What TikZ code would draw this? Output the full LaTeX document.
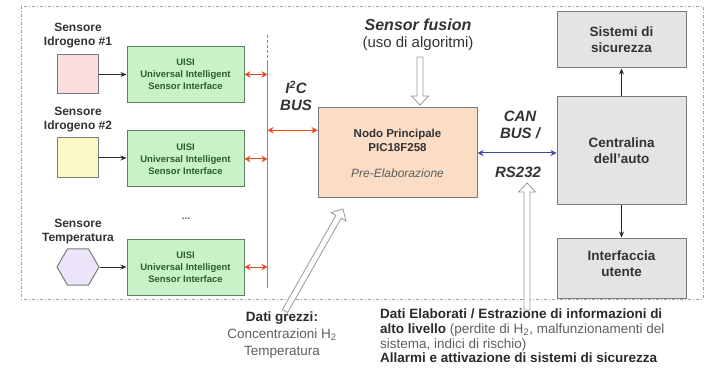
\documentclass[tikz,border=0pt]{standalone}
\usepackage{fontspec}
\setmainfont{Liberation Sans}
\usetikzlibrary{arrows.meta,calc,shapes.geometric}

\definecolor{boxline}{HTML}{7A7A7A}
\definecolor{uisiline}{HTML}{5E7E5E}
\definecolor{uisifill}{HTML}{C8F3C8}
\definecolor{uisitext}{HTML}{2A5E2A}
\definecolor{pinkfill}{HTML}{FBDDE0}
\definecolor{yellowfill}{HTML}{FDF8C8}
\definecolor{lilacfill}{HTML}{ECE4F8}
\definecolor{peachfill}{HTML}{FBDCC4}
\definecolor{grayfill}{HTML}{E4E4E4}
\definecolor{labeltext}{HTML}{333333}
\definecolor{softtext}{HTML}{5E5E5E}
\definecolor{busred}{HTML}{F04A22}
\definecolor{railred}{HTML}{F3624E}
\definecolor{canblue}{HTML}{4444A6}
\definecolor{arrowdark}{HTML}{2A2A2A}
\definecolor{hollowgray}{HTML}{9A9A9A}
\definecolor{framegray}{HTML}{9C9C9C}

% hollow block arrow from #1 to the tip #2
\newcommand\hollowarrow[2]{%
  \coordinate (ha-h) at ($(#2)!9pt!(#1)$);
  \draw[hollow] ($(#1)!3pt!90:(#2)$) -- ($(ha-h)!3pt!90:(#2)$)
    -- ($(ha-h)!8.5pt!90:(#2)$) -- (#2) -- ($(ha-h)!8.5pt!-90:(#2)$)
    -- ($(ha-h)!3pt!-90:(#2)$) -- ($(#1)!3pt!-90:(#2)$) -- cycle;
}

\begin{document}
\begin{tikzpicture}[x=1pt,y=-1pt,
  frame/.style={draw=framegray, line width=0.9pt,
    dash pattern=on 3pt off 2pt on 1pt off 2pt},
  sensbox/.style={draw=boxline, line width=1pt, minimum width=41pt,
    minimum height=39pt, inner sep=0pt},
  uisi/.style={draw=uisiline, fill=uisifill, line width=1pt,
    minimum width=117pt, minimum height=56pt, align=center, inner sep=0pt,
    font=\bfseries\fontsize{9.5}{12}\selectfont, text=uisitext},
  graybox/.style={draw=boxline, fill=grayfill, line width=1pt,
    minimum width=129pt, align=center, inner sep=0pt,
    font=\bfseries\fontsize{13.5}{16}\selectfont, text=labeltext},
  senslabel/.style={align=center, inner sep=0pt,
    font=\bfseries\fontsize{12}{14}\selectfont, text=labeltext},
  buslabel/.style={align=center, inner sep=0pt,
    font=\bfseries\itshape\fontsize{15}{17}\selectfont, text=labeltext},
  rail/.style={draw=railred, line width=1.3pt},
  busarrow/.style={draw=busred, line width=1pt,
    {Stealth[length=6pt,width=6.5pt]}-{Stealth[length=6pt,width=6.5pt]}},
  canarrow/.style={draw=canblue, line width=1pt,
    {Stealth[length=6pt,width=6pt]}-{Stealth[length=6pt,width=6pt]}},
  feed/.style={draw=arrowdark, line width=1pt, -{Stealth[length=6pt,width=5pt]}},
  hollow/.style={draw=hollowgray, fill=white, line width=0.8pt, line join=miter},
]
\useasboundingbox (0,0) rectangle (708,371);

% outer system boundary
\draw[frame] (21,6) rectangle (703,299);

% sensors
\node[senslabel] (l1) at (78,36) {Sensore\\Idrogeno \#1};
\node[sensbox, fill=pinkfill] (s1) at (77.5,74.5) {};
\node[senslabel] (l2) at (78,120) {Sensore\\Idrogeno \#2};
\node[sensbox, fill=yellowfill, minimum height=40pt] (s2) at (77.5,158) {};
\node[senslabel] (l3) at (78,232) {Sensore\\Temperatura};
\node[draw=boxline, fill=lilacfill, line width=1pt, regular polygon,
  regular polygon sides=6, minimum size=42pt, inner sep=0pt] (s3) at (78,267) {};

% interface boards
\node[uisi] (u1) at (185.5,74.5) {UISI\\Universal Intelligent\\Sensor Interface};
\node[uisi] (u2) at (185.5,159) {UISI\\Universal Intelligent\\Sensor Interface};
\node[uisi] (u3) at (185.5,267) {UISI\\Universal Intelligent\\Sensor Interface};
\node[text=softtext, font=\bfseries\fontsize{10}{12}\selectfont] (dots) at (186,219) {...};

\draw[feed] (s1.east) -- (u1.west |- s1.east);
\draw[feed] (s2.east) -- (u2.west |- s2.east);
\draw[feed] (s3.east) -- (u3.west |- s3.east);

% I2C bus: a red rail, dashed at its top end
\coordinate (bustop) at (267.5,35);
\coordinate (busmid) at (267.5,62);
\coordinate (busbot) at (267.5,288);
\draw[rail, dash pattern=on 3pt off 2pt] (bustop) -- (busmid);
\draw[rail] (busmid) -- (busbot);
\draw[busarrow] (u1.east) -- (u1.east -| busbot);
\draw[busarrow] (u2.east) -- (u2.east -| busbot);
\draw[busarrow] (u3.east) -- (u3.east -| busbot);
\node[buslabel] (i2c) at (296,96) {I\textsuperscript{2}C\\BUS};

% main node
\node[draw=boxline, fill=peachfill, line width=1pt, minimum width=159pt,
  minimum height=90pt, align=center, inner sep=0pt, text=labeltext,
  font=\fontsize{11.5}{14}\selectfont] (m) at (397.5,153)
  {\textbf{Nodo Principale}\\\textbf{PIC18F258}\\[12pt]
   {\color{softtext}\itshape\fontsize{12}{14}\selectfont Pre-Elaborazione}};
\coordinate (mbus) at ($(m.north west)!0.25!(m.south west)$);
\draw[busarrow] (mbus -| busbot) -- (mbus);

% sensor fusion
\node[inner sep=0pt, text=labeltext, font=\bfseries\itshape\fontsize{16}{18}\selectfont]
  (sf) at (418,25) {Sensor fusion};
\node[inner sep=0pt, text=labeltext, font=\fontsize{15}{17}\selectfont]
  (alg) at (418,44) {(uso di algoritmi)};
\coordinate (sfa) at (420,57);
\coordinate (sfb) at (420,105);
\hollowarrow{sfa}{sfb}

% car side
\node[graybox, minimum height=56pt] (ss) at (621.5,40) {Sistemi di\\sicurezza};
\node[graybox, minimum height=107pt] (c) at (621.5,150.5) {Centralina\\dell'auto};
\node[graybox, minimum height=60pt, text depth=8pt] (iu) at (621.5,268) {Interfaccia\\utente};
\draw[feed] (c.north) -- (ss.south);
\draw[feed] (c.south) -- (iu.north);

\node[buslabel] (can) at (520,125) {CAN\\BUS /};
\node[buslabel] (rs) at (518,172) {RS232};
\draw[canarrow] (m.east) -- (m.east -| c.west);

% raw data
\node[align=center, inner sep=0pt, text=softtext,
  font=\fontsize{13.5}{17}\selectfont] (dg) at (282,335)
  {{\bfseries\color{arrowdark}Dati grezzi:}\\Concentrazioni H\textsubscript{2}\\Temperatura};
\coordinate (dga) at (285,311);
\coordinate (dgb) at (343,209);
\hollowarrow{dga}{dgb}

% processed data
\node[anchor=north west, align=left, inner sep=0pt, text=arrowdark,
  font=\fontsize{13.5}{14.6}\selectfont] (de) at (380,309)
  {\textbf{Dati Elaborati / Estrazione di informazioni di}\\
   \textbf{alto livello} {\color{softtext}(perdite di H\textsubscript{2}, malfunzionamenti del}\\
   {\color{softtext}sistema, indici di rischio)}\\
   \textbf{Allarmi e attivazione di sistemi di sicurezza}};
\coordinate (dea) at (527,310);
\coordinate (deb) at (527,183);
\hollowarrow{dea}{deb}

\end{tikzpicture}
\end{document}
